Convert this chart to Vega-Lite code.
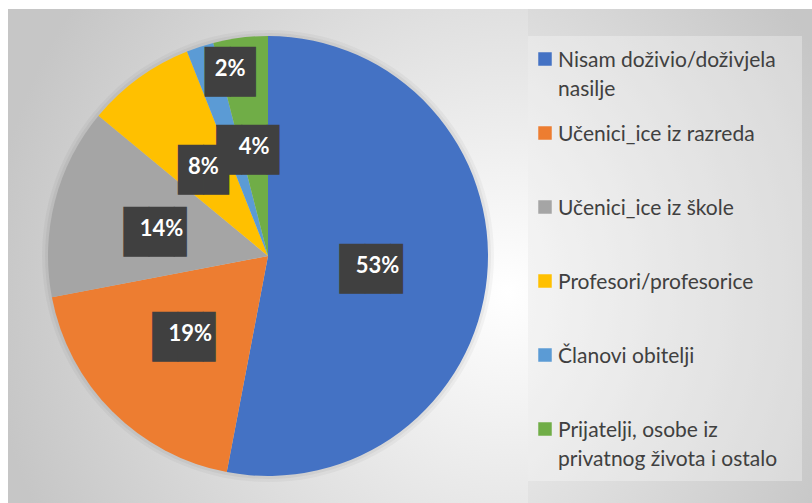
{
  "$schema": "https://vega.github.io/schema/vega-lite/v6.json",
  "background": "white",
  "padding": {"left": 8, "top": 9, "right": 0, "bottom": 0},
  "spacing": 0,
  "config": {"view": {"stroke": null}, "concat": {"spacing": 0}},
  "datasets": {
    "shares": [
      {"category": "Nisam doživio/doživjela nasilje", "legend": "Nisam doživio/doživjela\nnasilje", "share": 0.53, "order": 1},
      {"category": "Učenici_ice iz razreda", "legend": "Učenici_ice iz razreda", "share": 0.19, "order": 2},
      {"category": "Učenici_ice iz škole", "legend": "Učenici_ice iz škole", "share": 0.14, "order": 3},
      {"category": "Profesori/profesorice", "legend": "Profesori/profesorice", "share": 0.08, "order": 4},
      {"category": "Članovi obitelji", "legend": "Članovi obitelji", "share": 0.02, "order": 5},
      {"category": "Prijatelji, osobe iz privatnog života i ostalo", "legend": "Prijatelji, osobe iz\nprivatnog života i ostalo", "share": 0.04, "order": 6}
    ],
    "one": [{}]
  },
  "hconcat": [
    {
      "width": 520,
      "height": 494,
      "data": {"name": "shares"},
      "layer": [
        {
          "data": {"name": "one"},
          "mark": {"type": "rect", "color": {"gradient": "radial", "x1": 0.96, "y1": 0.57, "r1": 0, "x2": 0.96, "y2": 0.57, "r2": 1, "stops": [{"offset": 0, "color": "#ffffff"}, {"offset": 1, "color": "#c6c6c6"}]}},
          "encoding": {"x": {"value": 0}, "x2": {"value": "width"}, "y": {"value": 0}, "y2": {"value": "height"}}
        },
        {
          "data": {"name": "one"},
          "mark": {"type": "arc", "outerRadius": 226, "color": "#000000", "opacity": 0.035},
          "encoding": {}
        },
        {
          "data": {"name": "one"},
          "mark": {"type": "arc", "outerRadius": 223, "color": "#000000", "opacity": 0.045},
          "encoding": {}
        },
        {
          "mark": {"type": "arc", "outerRadius": 220},
          "encoding": {
            "theta": {"field": "share", "type": "quantitative", "stack": true},
            "order": {"field": "order", "type": "quantitative"},
            "color": {
              "field": "category", "type": "nominal", "legend": null,
              "scale": {
                "domain": ["Nisam doživio/doživjela nasilje", "Učenici_ice iz razreda", "Učenici_ice iz škole", "Profesori/profesorice", "Članovi obitelji", "Prijatelji, osobe iz privatnog života i ostalo"],
                "range": ["#4472C4", "#ED7D31", "#A5A5A5", "#FFC000", "#5B9BD5", "#70AD47"]
              }
            }
          }
        },
        {
          "mark": {"type": "text", "radius": 110, "font": "DejaVu Sans Mono", "fontSize": 42, "dy": 4, "align": "center", "baseline": "middle", "color": "#404040"},
          "encoding": {
            "theta": {"field": "share", "type": "quantitative", "stack": true},
            "order": {"field": "order", "type": "quantitative"},
            "text": {"condition": [{"test": "datum.category === 'Članovi obitelji'", "value": ""}, {"test": "datum.share >= 0.1 || datum.category === 'Prijatelji, osobe iz privatnog života i ostalo'", "value": "██▌"}], "value": "██"}
          }
        },
        {
          "mark": {"type": "text", "radius": 110, "font": "Lato", "fontWeight": "bold", "fontSize": 22, "align": "center", "baseline": "middle", "color": "#ffffff"},
          "encoding": {
            "theta": {"field": "share", "type": "quantitative", "stack": true},
            "order": {"field": "order", "type": "quantitative"},
            "text": {"condition": {"test": "datum.category === 'Članovi obitelji'", "value": ""}, "field": "share", "type": "quantitative", "format": ".0%"}
          }
        },
        {
          "mark": {"type": "text", "radius": 194, "dx": 22, "dy": 2, "font": "DejaVu Sans Mono", "fontSize": 42, "align": "center", "baseline": "middle", "color": "#404040"},
          "encoding": {
            "theta": {"field": "share", "type": "quantitative", "stack": true},
            "order": {"field": "order", "type": "quantitative"},
            "text": {"condition": {"test": "datum.category === 'Članovi obitelji'", "value": "██"}, "value": ""}
          }
        },
        {
          "mark": {"type": "text", "radius": 194, "dx": 22, "dy": -2, "font": "Lato", "fontWeight": "bold", "fontSize": 22, "align": "center", "baseline": "middle", "color": "#ffffff"},
          "encoding": {
            "theta": {"field": "share", "type": "quantitative", "stack": true},
            "order": {"field": "order", "type": "quantitative"},
            "text": {"condition": {"test": "datum.category !== 'Članovi obitelji'", "value": ""}, "field": "share", "type": "quantitative", "format": ".0%"}
          }
        }
      ]
    },
    {
      "width": 284,
      "height": 494,
      "data": {"name": "shares"},
      "layer": [
        {
          "data": {"name": "one"},
          "mark": {"type": "rect", "color": {"gradient": "radial", "x1": -0.081, "y1": 0.57, "r1": 0, "x2": -0.081, "y2": 0.57, "r2": 1, "stops": [{"offset": 0, "color": "#ffffff"}, {"offset": 1, "color": "#c6c6c6"}]}},
          "encoding": {"x": {"value": 0}, "x2": {"value": "width"}, "y": {"value": 0}, "y2": {"value": "height"}}
        },
        {
          "data": {"name": "one"},
          "mark": {"type": "rect", "color": "#ffffff", "opacity": 0.3},
          "encoding": {"x": {"value": 0}, "x2": {"value": 274}, "y": {"value": 27}, "y2": {"value": 472}}
        },
        {
          "mark": {"type": "point", "shape": "square", "filled": true, "size": 182, "opacity": 1},
          "encoding": {
            "x": {"value": 17},
            "y": {"field": "category", "type": "nominal", "sort": null, "axis": null, "scale": {"type": "point", "padding": 0, "range": [50, 420]}},
            "color": {"field": "category", "type": "nominal", "legend": null}
          }
        },
        {
          "mark": {"type": "text", "align": "left", "baseline": "alphabetic", "dy": 8, "font": "Lato", "fontSize": 21, "color": "#404040", "lineBreak": "\n", "lineHeight": 29},
          "encoding": {
            "x": {"value": 30},
            "y": {"field": "category", "type": "nominal", "sort": null, "axis": null, "scale": {"type": "point", "padding": 0, "range": [50, 420]}},
            "text": {"field": "legend"}
          }
        }
      ]
    }
  ]
}
